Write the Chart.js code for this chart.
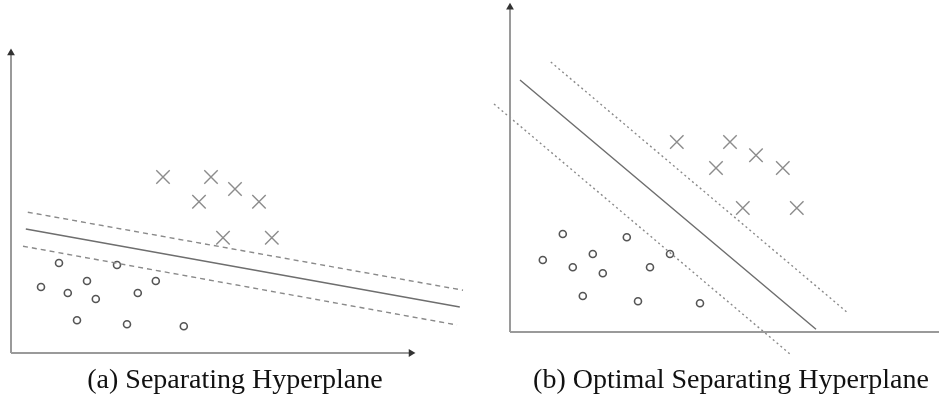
<!DOCTYPE html>
<html>
<head>
<meta charset="utf-8">
<script src="https://cdn.jsdelivr.net/npm/chart.js@4"></script>
<style>
  body { margin: 0; background: #fff; width: 939px; height: 395px; position: relative; overflow: hidden; }
  .panel { position: absolute; top: 0; }
  .caption { position: absolute; top: 365px; width: 460px; text-align: center; font-family: "Liberation Serif", "DejaVu Serif", serif; font-size: 28px; line-height: 1; color: #111; white-space: nowrap; }
</style>
</head>
<body>
<div class="panel" style="left:0px"><canvas id="chartA" width="470" height="365"></canvas></div>
<div class="panel" style="left:480px"><canvas id="chartB" width="459" height="365"></canvas></div>
<div class="caption" style="left:5px">(a) Separating Hyperplane</div>
<div class="caption" style="left:501px">(b) Optimal Separating Hyperplane</div>
<script>
// panel (a): separating hyperplane
const crossesA = [
  { x: 3.8, y: 4.4 }, { x: 5.0, y: 4.4 }, { x: 5.6, y: 4.1 }, { x: 4.7, y: 3.78 },
  { x: 6.2, y: 3.78 }, { x: 5.3, y: 2.88 }, { x: 6.52, y: 2.88 },
];
const circlesA = [
  { x: 1.2, y: 2.25 }, { x: 2.65, y: 2.2 }, { x: 1.9, y: 1.8 }, { x: 0.75, y: 1.65 },
  { x: 1.42, y: 1.5 }, { x: 2.12, y: 1.35 }, { x: 3.17, y: 1.5 }, { x: 3.62, y: 1.8 },
  { x: 1.65, y: 0.82 }, { x: 2.9, y: 0.72 }, { x: 4.32, y: 0.67 },
];
const planeA = [{ x: 0.37, y: 3.1 }, { x: 11.22, y: 1.15 }];
const marginUpA = [{ x: 0.42, y: 3.52 }, { x: 11.3, y: 1.57 }];
const marginLowA = [{ x: 0.3, y: 2.67 }, { x: 11.15, y: 0.7 }];
const xAxisA = [{ x: 0, y: 0 }, { x: 10, y: 0 }];
const yAxisA = [{ x: 0, y: 0 }, { x: 0, y: 7.5 }];

// panel (b): optimal separating hyperplane
const crossesB = [
  { x: 4.17, y: 4.75 }, { x: 5.5, y: 4.75 }, { x: 6.15, y: 4.42 }, { x: 5.15, y: 4.1 },
  { x: 6.82, y: 4.1 }, { x: 5.82, y: 3.1 }, { x: 7.17, y: 3.1 },
];
const circlesB = [
  { x: 1.32, y: 2.45 }, { x: 2.92, y: 2.37 }, { x: 2.07, y: 1.95 }, { x: 4.0, y: 1.95 },
  { x: 0.82, y: 1.8 }, { x: 1.57, y: 1.62 }, { x: 2.32, y: 1.47 }, { x: 3.5, y: 1.62 },
  { x: 1.82, y: 0.9 }, { x: 3.2, y: 0.77 }, { x: 4.75, y: 0.72 },
];
const planeB = [{ x: 0.25, y: 6.3 }, { x: 7.65, y: 0.07 }];
const marginUpB = [{ x: 1.02, y: 6.75 }, { x: 8.42, y: 0.5 }];
const marginLowB = [{ x: -0.4, y: 5.7 }, { x: 7.0, y: -0.55 }];
const xAxisB = [{ x: 0, y: 0 }, { x: 10.8, y: 0 }];
const yAxisB = [{ x: 0, y: 0 }, { x: 0, y: 8.12 }];

Chart.defaults.animation = false;

function lineSet(data, color, width, dash) {
  return {
    type: "line",
    data: data,
    borderColor: color,
    borderWidth: width,
    borderDash: dash,
    pointRadius: 0,
    fill: false,
    clip: false,
  };
}

function axisSet(data, rotation) {
  return {
    type: "line",
    data: data,
    borderColor: "#9a9a9a",
    borderWidth: 2,
    pointStyle: "triangle",
    pointRadius: [0, 2.5],
    pointRotation: [0, rotation],
    pointBackgroundColor: "#333",
    pointBorderColor: "#333",
    fill: false,
    clip: false,
  };
}

function makeChart(id, sets, xr, yr) {
  const ctx = document.getElementById(id).getContext("2d");
  return new Chart(ctx, {
    type: "scatter",
    data: {
      datasets: [
        axisSet(sets.xAxis, 90),
        axisSet(sets.yAxis, 0),
        lineSet(sets.plane, "#6e6e6e", 1.4, []),
        lineSet(sets.up, "#8a8a8a", 1.4, sets.dash),
        lineSet(sets.low, "#8a8a8a", 1.4, sets.dash),
        {
          data: sets.crosses,
          pointStyle: "crossRot",
          pointRadius: 9.5,
          pointBorderColor: "#8c8c8c",
          pointBorderWidth: 1.4,
          clip: false,
        },
        {
          data: sets.circles,
          pointStyle: "circle",
          pointRadius: 3.5,
          pointBackgroundColor: "#fff",
          pointBorderColor: "#555",
          pointBorderWidth: 1.6,
          clip: false,
        },
      ],
    },
    options: {
      responsive: false,
      layout: { padding: 0, autoPadding: false },
      events: [],
      scales: {
        x: { type: "linear", display: false, min: xr[0], max: xr[1] },
        y: { type: "linear", display: false, min: yr[0], max: yr[1] },
      },
      plugins: {
        legend: { display: false },
        tooltip: { enabled: false },
      },
    },
  });
}

makeChart("chartA", {
  xAxis: xAxisA, yAxis: yAxisA, plane: planeA, up: marginUpA, low: marginLowA,
  crosses: crossesA, circles: circlesA, dash: [5, 4],
}, [-0.275, 11.475], [-0.3, 8.825]);

makeChart("chartB", {
  xAxis: xAxisB, yAxis: yAxisB, plane: planeB, up: marginUpB, low: marginLowB,
  crosses: crossesB, circles: circlesB, dash: [2, 3],
}, [-0.75, 10.725], [-0.825, 8.3]);
</script>
</body>
</html>
